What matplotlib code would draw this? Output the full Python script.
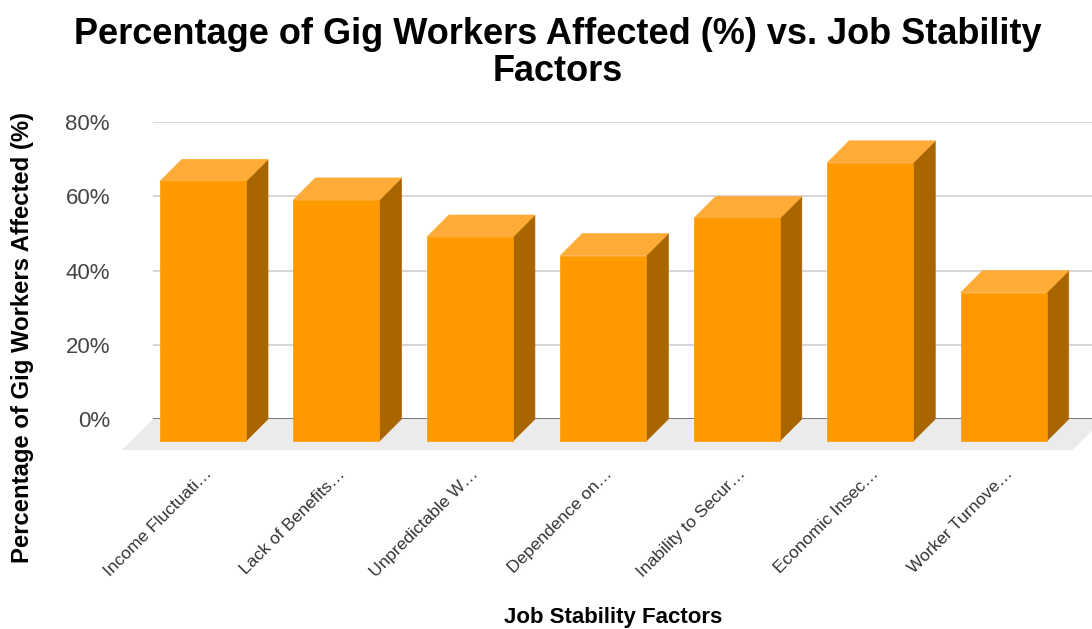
import matplotlib
matplotlib.use("Agg")
import matplotlib.pyplot as plt
from matplotlib.patches import Polygon
from matplotlib.ticker import FuncFormatter

# Data
factors = [
    "Income Fluctuati\u2026",
    "Lack of Benefits\u2026",
    "Unpredictable W\u2026",
    "Dependence on\u2026",
    "Inability to Secur\u2026",
    "Economic Insec\u2026",
    "Worker Turnove\u2026",
]
affected_pct = [70, 65, 55, 50, 60, 75, 40]
y_ticks = [0, 20, 40, 60, 80]

title = "Percentage of Gig Workers Affected (%) vs. Job Stability\nFactors"
x_title = "Job Stability Factors"
y_title = "Percentage of Gig Workers Affected (%)"

# Colours
FRONT = "#ff9900"
TOP = "#ffab37"
SIDE = "#a86500"
FLOOR = "#ebebeb"
GRID = "#d0d0d0"
BASE = "#6b6b6b"
TEXT = "#444444"

plt.rcParams["font.family"] = ["Liberation Sans", "DejaVu Sans"]

W, H = 1092, 629
fig = plt.figure(figsize=(W / 100, H / 100), dpi=100)

# Back wall of the plot area, in pixels
L, R, B, T = 153, 1104, 419, 122.3
ax = fig.add_axes([L / W, (H - B) / H, (R - L) / W, (B - T) / H])
xmin = -72 / 133.45
xmax = xmin + (R - L) / 133.45
ax.set_xlim(xmin, xmax)
ax.set_ylim(0, 80)

# data units per pixel
ux = (xmax - xmin) / (R - L)
uy = 80 / (B - T)

# Gridlines on the back wall
for t in y_ticks[1:]:
    ax.axhline(t, color=GRID, lw=1.2, zorder=1)

# Floor
fd = 31
floor = Polygon([(xmin, 0), (xmax, 0), (xmax - fd * ux, -fd * uy), (xmin - fd * ux, -fd * uy)],
                closed=True, facecolor=FLOOR, edgecolor="none", clip_on=False, zorder=2)
ax.add_patch(floor)
ax.axhline(0, color=BASE, lw=1.3, zorder=3)

# 3D bars
bw = 86 * ux
dx, dy = -22 * ux, -22 * uy
for i, v in enumerate(affected_pct):
    xl, xr = i - bw / 2, i + bw / 2
    side = [(xr + dx, dy), (xr, 0), (xr, v), (xr + dx, v + dy)]
    top = [(xl + dx, v + dy), (xr + dx, v + dy), (xr, v), (xl, v)]
    front = [(xl + dx, dy), (xr + dx, dy), (xr + dx, v + dy), (xl + dx, v + dy)]
    for pts, col in ((side, SIDE), (top, TOP), (front, FRONT)):
        ax.add_patch(Polygon(pts, closed=True, facecolor=col, edgecolor=col, lw=0.5,
                             clip_on=False, zorder=4))

for s in ax.spines.values():
    s.set_visible(False)

# Y axis
ax.set_yticks(y_ticks)
ax.yaxis.set_major_formatter(FuncFormatter(lambda v, _: f"{v:.0f}%"))
ax.tick_params(axis="y", length=0, pad=31, labelsize=16, labelcolor=TEXT)

# X axis
ax.set_xticks([i - 21 * ux for i in range(len(factors))])
ax.set_xticklabels(factors, rotation=45, ha="right", rotation_mode="anchor")
ax.tick_params(axis="x", length=0, pad=34, labelsize=12.5, labelcolor="#333333")

fig.text(558 / W, 1 - 53 / H, title, ha="center", va="center", fontsize=26,
         fontweight="bold", linespacing=1.1, color="black")
fig.text(613 / W, 1 - 617 / H, x_title, ha="center", va="center", fontsize=16,
         fontweight="bold", color="black")
fig.text(23 / W, 1 - 337 / H, y_title, ha="center", va="center", rotation=90,
         fontsize=17.2, fontweight="bold", color="black")

fig.savefig("out.png", dpi=100)
